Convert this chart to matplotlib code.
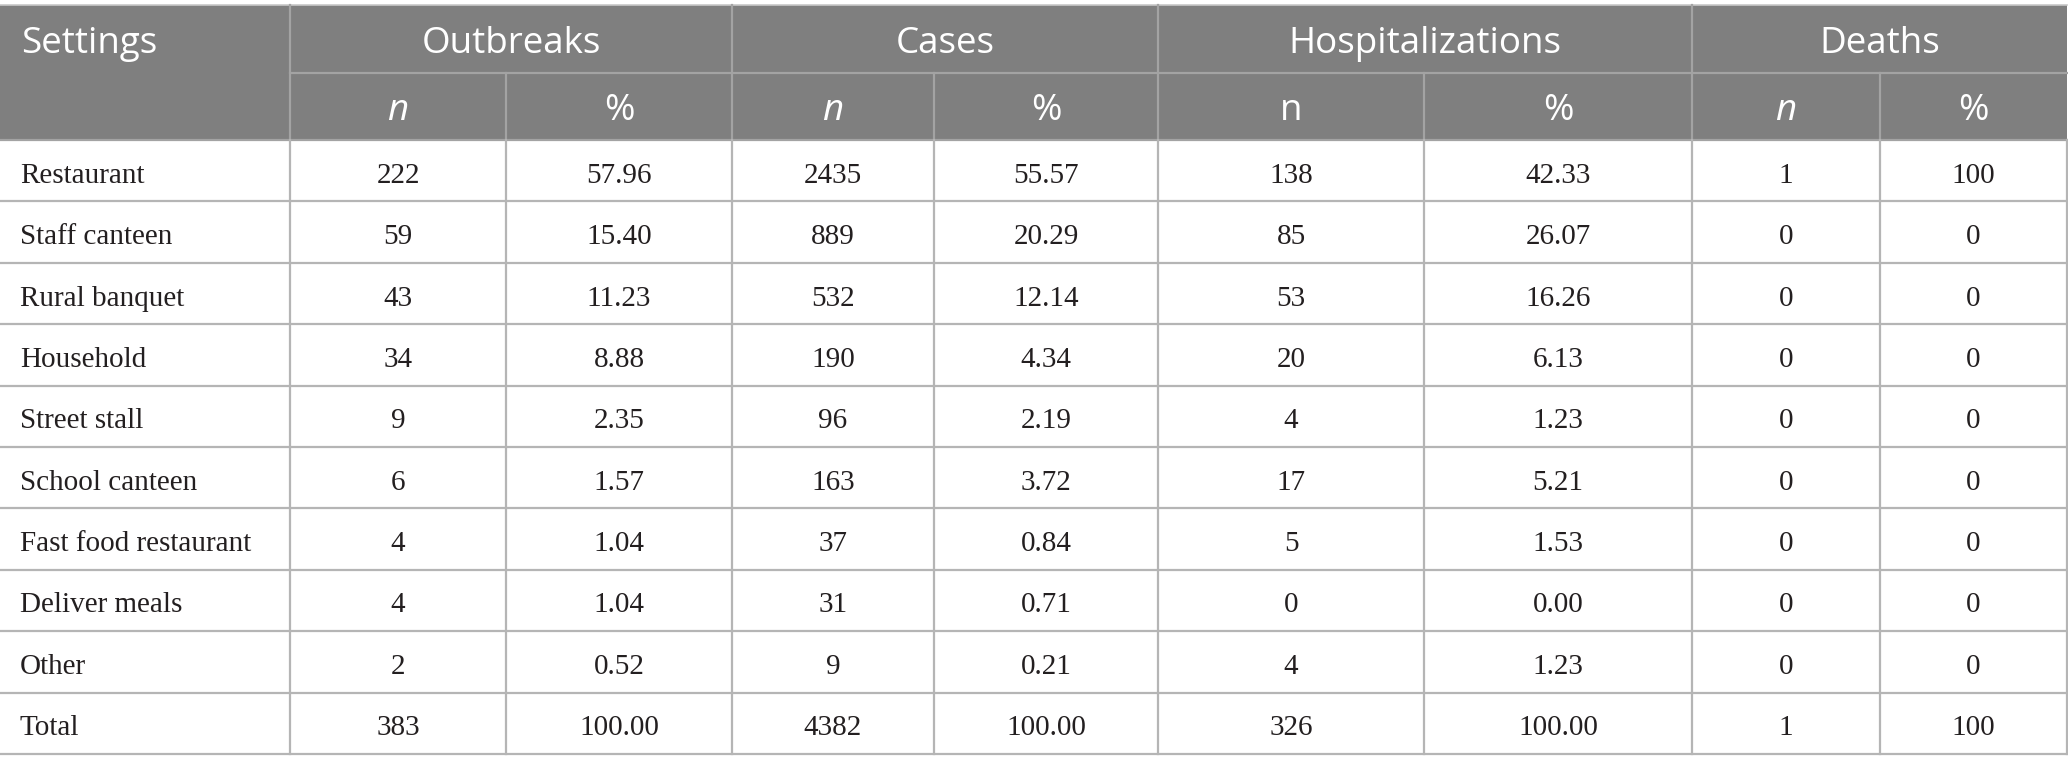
import matplotlib
matplotlib.use("Agg")
import matplotlib.pyplot as plt
from matplotlib.patches import Rectangle

# ---- data ----
settings = ["Restaurant", "Staff canteen", "Rural banquet", "Household", "Street stall",
            "School canteen", "Fast food restaurant", "Deliver meals", "Other", "Total"]
outbreaks_n = ["222", "59", "43", "34", "9", "6", "4", "4", "2", "383"]
outbreaks_pct = ["57.96", "15.40", "11.23", "8.88", "2.35", "1.57", "1.04", "1.04", "0.52", "100.00"]
cases_n = ["2435", "889", "532", "190", "96", "163", "37", "31", "9", "4382"]
cases_pct = ["55.57", "20.29", "12.14", "4.34", "2.19", "3.72", "0.84", "0.71", "0.21", "100.00"]
hosp_n = ["138", "85", "53", "20", "4", "17", "5", "0", "4", "326"]
hosp_pct = ["42.33", "26.07", "16.26", "6.13", "1.23", "5.21", "1.53", "0.00", "1.23", "100.00"]
deaths_n = ["1", "0", "0", "0", "0", "0", "0", "0", "0", "1"]
deaths_pct = ["100", "0", "0", "0", "0", "0", "0", "0", "0", "100"]

group_headers = ["Outbreaks", "Cases", "Hospitalizations", "Deaths"]
sub_headers = ["n", "%", "n", "%", "n", "%", "n", "%"]
sub_italic = [True, False, True, False, False, False, True, False]

columns = [settings, outbreaks_n, outbreaks_pct, cases_n, cases_pct,
           hosp_n, hosp_pct, deaths_n, deaths_pct]

# ---- layout (pixels) ----
W, H = 2068, 770
col_edges = [0, 290, 506, 732, 934, 1158, 1424, 1692, 1880, 2067]
top, h1, h2 = 5, 73, 140
bottom = 754
nrows = len(settings)
row_h = (bottom - h2) / nrows
text_shift = 5

header_bg = "#7f7f7f"
header_line = "#a3a3a3"
body_line = "#b5b5b5"
text_color = "#231f20"

fig = plt.figure(figsize=(W / 100, H / 100), dpi=100)
ax = fig.add_axes([0, 0, 1, 1])
ax.set_xlim(0, W)
ax.set_ylim(H, 0)
ax.axis("off")

# header background
ax.add_patch(Rectangle((0, top), col_edges[-1], h2 - top, facecolor=header_bg,
                       edgecolor="none", zorder=1))
# top border
ax.plot([0, col_edges[-1]], [top, top], color="#c8c8c8", lw=1.2, zorder=2)

# header lines
ax.plot([col_edges[1], col_edges[-1]], [h1, h1], color=header_line, lw=1.6, zorder=2)
for i, x in enumerate(col_edges[1:-1], start=1):
    y0 = top if i % 2 == 1 else h1
    ax.plot([x, x], [y0, h2], color=header_line, lw=1.6, zorder=2)
ax.plot([0, col_edges[-1]], [h2, h2], color=header_line, lw=1.6, zorder=2)

# header texts
hfont = dict(family="Open Sans", color="white", fontsize=26.5)
ax.text(21, (top + h1) / 2 + text_shift, "Settings", ha="left", va="center", **hfont, zorder=3)
for g, name in enumerate(group_headers):
    x0, x1 = col_edges[1 + 2 * g], col_edges[3 + 2 * g]
    ax.text((x0 + x1) / 2, (top + h1) / 2 + text_shift, name, ha="center", va="center",
            **hfont, zorder=3)
for j, (lab, it) in enumerate(zip(sub_headers, sub_italic)):
    x0, x1 = col_edges[1 + j], col_edges[2 + j]
    ax.text((x0 + x1) / 2, (h1 + h2) / 2 + text_shift, lab, ha="center", va="center",
            style="italic" if it else "normal", **hfont, zorder=3)

# body grid
for r in range(1, nrows + 1):
    y = h2 + r * row_h
    ax.plot([0, col_edges[-1]], [y, y], color=body_line, lw=1.6, zorder=2)
for x in col_edges[1:]:
    ax.plot([x, x], [h2, bottom], color=body_line, lw=1.6, zorder=2)

# body texts
bfont = dict(family="Liberation Serif", color=text_color, fontsize=21)
for c, col in enumerate(columns):
    for r, val in enumerate(col):
        y = h2 + (r + 0.5) * row_h + text_shift
        if c == 0:
            ax.text(20, y, val, ha="left", va="center", **bfont, zorder=3)
        else:
            ax.text((col_edges[c] + col_edges[c + 1]) / 2, y, val,
                    ha="center", va="center", **bfont, zorder=3)

fig.savefig("out.png", dpi=100, facecolor="white")
